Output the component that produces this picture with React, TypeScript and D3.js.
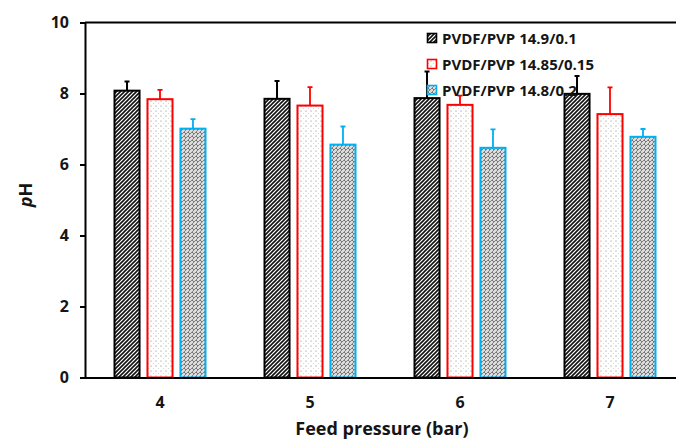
import React, { useEffect, useRef } from 'react';
import * as d3 from 'd3';

const categories = ['4', '5', '6', '7'];
const seriesNames = ['PVDF/PVP 14.9/0.1', 'PVDF/PVP 14.85/0.15', 'PVDF/PVP 14.8/0.2'];
const ph149 = [8.08, 7.85, 7.87, 7.99];
const ph1485 = [7.84, 7.66, 7.68, 7.42];
const ph148 = [7.01, 6.56, 6.47, 6.78];
const err149 = [0.26, 0.5, 0.75, 0.5];
const err1485 = [0.26, 0.52, 0.26, 0.75];
const err148 = [0.27, 0.51, 0.52, 0.22];
const yTicks = [0, 2, 4, 6, 8, 10];

const strokes = ['#000000', '#ff0000', '#00b0f0'];
const fills = ['url(#hatch)', 'url(#dots)', 'url(#lattice)'];

const App = () => {
  const ref = useRef<SVGSVGElement | null>(null);

  useEffect(() => {
    const values = [ph149, ph1485, ph148];
    const errors = [err149, err1485, err148];
    const svg = d3.select(ref.current);
    svg.selectAll('*').remove();

    const left = 85;
    const right = 685;
    const top = 22.5;
    const bottom = 377.5;
    const font = "'Open Sans', sans-serif";
    const ink = '#151515';

    // patterns
    const defs = svg.append('defs');
    const hatch = defs
      .append('pattern')
      .attr('id', 'hatch')
      .attr('patternUnits', 'userSpaceOnUse')
      .attr('width', 4)
      .attr('height', 4);
    hatch.append('rect').attr('width', 4).attr('height', 4).attr('fill', '#fff');
    hatch
      .append('path')
      .attr('d', 'M-1,1 l2,-2 M0,4 l4,-4 M3,5 l2,-2')
      .attr('stroke', '#111')
      .attr('stroke-width', 1.6);

    const dots = defs
      .append('pattern')
      .attr('id', 'dots')
      .attr('patternUnits', 'userSpaceOnUse')
      .attr('width', 5)
      .attr('height', 5);
    dots.append('rect').attr('width', 5).attr('height', 5).attr('fill', '#fff');
    dots.append('circle').attr('cx', 1).attr('cy', 1).attr('r', 0.55).attr('fill', '#777');
    dots.append('circle').attr('cx', 3.5).attr('cy', 3.5).attr('r', 0.45).attr('fill', '#aaa');

    const lattice = defs
      .append('pattern')
      .attr('id', 'lattice')
      .attr('patternUnits', 'userSpaceOnUse')
      .attr('width', 4)
      .attr('height', 4);
    lattice.append('rect').attr('width', 4).attr('height', 4).attr('fill', '#dcdcdc');
    lattice
      .append('path')
      .attr('d', 'M0,4 l4,-4 M-1,1 l2,-2 M3,5 l2,-2')
      .attr('stroke', '#7a7a7a')
      .attr('stroke-width', 0.9);
    lattice
      .append('path')
      .attr('d', 'M0,0 l2,2')
      .attr('stroke', '#555')
      .attr('stroke-width', 0.8);

    const x0 = d3.scaleBand().domain(categories).range([left, right]);
    const x1 = d3
      .scaleBand()
      .domain(seriesNames)
      .range([-46.5, 46.5])
      .paddingInner(0.18);
    const y = d3.scaleLinear().domain([0, 10]).range([bottom, top]);

    // bars + error bars
    seriesNames.forEach((name, si) => {
      const g = svg.append('g');
      g.selectAll('rect')
        .data(categories)
        .enter()
        .append('rect')
        .attr('x', (d) => x0(d)! + x0.bandwidth() / 2 + x1(name)! + 1)
        .attr('y', (d, i) => y(values[si][i]))
        .attr('width', x1.bandwidth() - 2)
        .attr('height', (d, i) => bottom - y(values[si][i]))
        .attr('fill', fills[si])
        .attr('stroke', strokes[si])
        .attr('stroke-width', 2);

      g.selectAll('.err')
        .data(categories)
        .enter()
        .append('path')
        .attr('class', 'err')
        .attr('d', (d, i) => {
          const cx = x0(d)! + x0.bandwidth() / 2 + x1(name)! + x1.bandwidth() / 2;
          const y1 = y(values[si][i]);
          const y2 = y(values[si][i] + errors[si][i]);
          return `M${cx},${y1} L${cx},${y2} M${cx - 2.5},${y2} L${cx + 2.5},${y2}`;
        })
        .attr('fill', 'none')
        .attr('stroke', strokes[si])
        .attr('stroke-width', si === 0 ? 2 : 1.8);
    });

    // top border of the plot area
    svg
      .append('line')
      .attr('x1', left)
      .attr('x2', right)
      .attr('y1', top)
      .attr('y2', top)
      .attr('stroke', '#000')
      .attr('stroke-width', 2);

    const yAxis = svg
      .append('g')
      .attr('transform', `translate(${left},0)`)
      .call(d3.axisLeft(y).tickValues(yTicks).tickSize(5).tickPadding(11).tickFormat(d3.format('d')));
    yAxis.selectAll('path').attr('stroke-width', 2).attr('stroke', '#000');
    yAxis.selectAll('line').attr('stroke-width', 2).attr('stroke', '#000');
    yAxis
      .selectAll('text')
      .attr('font-family', font)
      .attr('font-size', 16)
      .attr('font-weight', 'bold')
      .attr('fill', ink);

    const xAxis = svg
      .append('g')
      .attr('transform', `translate(0,${bottom})`)
      .call(d3.axisBottom(x0).tickSize(0).tickPadding(19));
    xAxis.selectAll('path').attr('stroke-width', 2).attr('stroke', '#000');
    xAxis
      .selectAll('text')
      .attr('font-family', font)
      .attr('font-size', 16)
      .attr('font-weight', 'bold')
      .attr('fill', ink);

    svg
      .append('text')
      .attr('x', 382)
      .attr('y', 435)
      .attr('text-anchor', 'middle')
      .attr('font-family', font)
      .attr('font-size', 18)
      .attr('font-weight', 'bold')
      .attr('fill', ink)
      .text('Feed pressure (bar)');

    const yTitle = svg
      .append('text')
      .attr('transform', 'translate(32,195) rotate(-90)')
      .attr('text-anchor', 'middle')
      .attr('font-family', font)
      .attr('font-size', 18)
      .attr('font-weight', 'bold')
      .attr('fill', ink);
    yTitle.append('tspan').attr('font-style', 'italic').text('p');
    yTitle.append('tspan').text('H');

    // legend
    const legend = svg.append('g');
    seriesNames.forEach((name, si) => {
      const base = 43.5 + si * 26;
      legend
        .append('rect')
        .attr('x', 427.5)
        .attr('y', base - 10)
        .attr('width', 9)
        .attr('height', 9)
        .attr('fill', fills[si])
        .attr('stroke', strokes[si])
        .attr('stroke-width', 1.6);
      legend
        .append('text')
        .attr('x', 442)
        .attr('y', base)
        .attr('font-family', font)
        .attr('font-size', 15)
        .attr('font-weight', 'bold')
        .attr('fill', ink)
        .text(name);
    });
  }, []);

  return (
    <div style={{ position: 'absolute', left: 0, top: 0 }}>
      <svg ref={ref} width={676} height={439} style={{ display: 'block', background: '#fff' }} />
    </div>
  );
};

export default App;
